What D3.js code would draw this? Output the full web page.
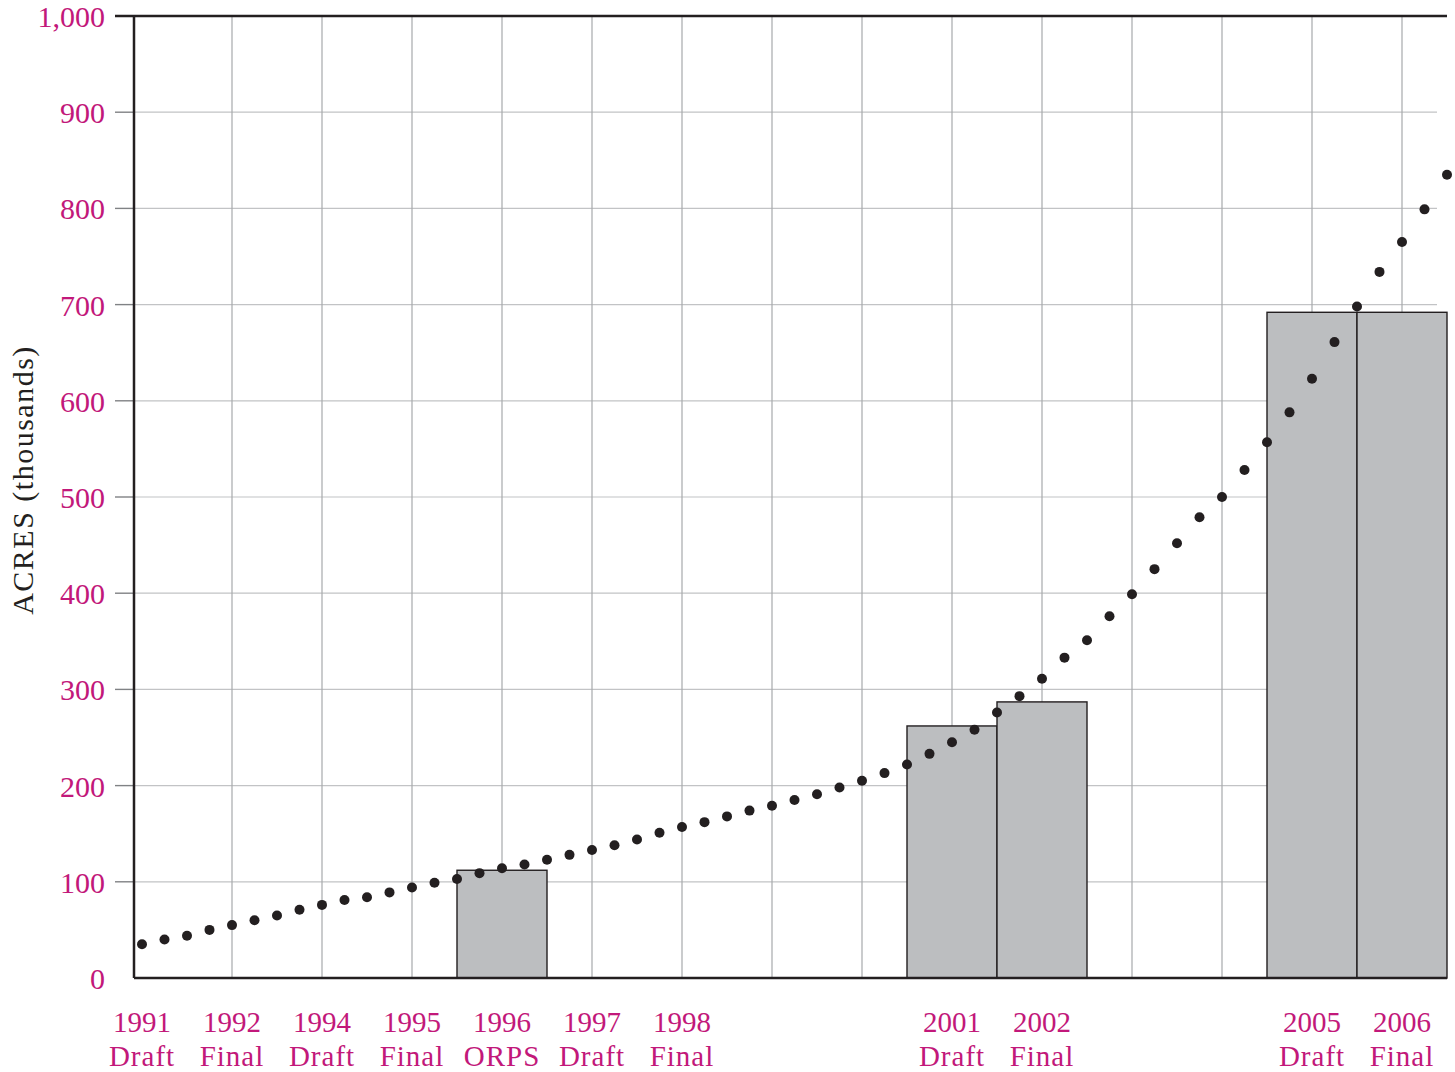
<!DOCTYPE html>
<html>
<head>
<meta charset="utf-8">
<script src="https://cdn.jsdelivr.net/npm/d3@7"></script>
<style>
  html, body { margin: 0; padding: 0; background: #fff; }
  svg { display: block; }
  text { font-family: "Liberation Serif", "Times New Roman", serif; }
</style>
</head>
<body>
<svg id="chart" width="1455" height="1072"></svg>
<script>
// ---- data ----
const categoryYears  = ["1991", "1992", "1994", "1995", "1996", "1997", "1998", "", "", "2001", "2002", "", "", "2005", "2006"];
const categoryKinds  = ["Draft", "Final", "Draft", "Final", "ORPS", "Draft", "Final", "", "", "Draft", "Final", "", "", "Draft", "Final"];
const barValues      = [null, null, null, null, 112, null, null, null, null, 262, 287, null, null, 692, 692];
// trend dots, four per category slot starting at the first category
const trendValues = [35, 40, 44, 50, 55, 60, 65, 71, 76, 81, 84, 89, 94, 99, 103, 109, 114, 118, 123, 128,
                     133, 138, 144, 151, 157, 162, 168, 174, 179, 185, 191, 198, 205, 213, 222, 233, 245, 258,
                     276, 293, 311, 333, 351, 376, 399, 425, 452, 479, 500, 528, 557, 588, 623, 661, 698, 734,
                     765, 799, 835];
const yTicks = [0, 100, 200, 300, 400, 500, 600, 700, 800, 900, 1000];
const yTitle = "ACRES (thousands)";

// ---- layout ----
const svg = d3.select("#chart");
const magenta = "#c2187a";
const ink = "#231f20";
const plotLeft = 134, plotRight = 1447, plotTop = 16, plotBottom = 978;

const x = d3.scaleLinear().domain([0, categoryYears.length - 1]).range([142, 1402]);
const bandW = x(1) - x(0);
const y = d3.scaleLinear().domain([0, 1000]).range([plotBottom, plotTop]);

// horizontal grid lines
svg.append("g").selectAll("line").data(yTicks.filter(t => t > 0 && t < 1000)).join("line")
  .attr("x1", plotLeft).attr("x2", 1437)
  .attr("y1", d => y(d)).attr("y2", d => y(d))
  .attr("stroke", "#c2c3c5").attr("stroke-width", 1.2);

// tick marks on left
svg.append("g").selectAll("line").data(yTicks.filter(t => t > 0 && t < 1000)).join("line")
  .attr("x1", 115).attr("x2", plotLeft)
  .attr("y1", d => y(d)).attr("y2", d => y(d))
  .attr("stroke", "#808285").attr("stroke-width", 1.4);

// vertical grid lines
svg.append("g").selectAll("line").data(d3.range(1, categoryYears.length)).join("line")
  .attr("x1", d => x(d)).attr("x2", d => x(d))
  .attr("y1", plotTop).attr("y2", plotBottom)
  .attr("stroke", "#a7a9ac").attr("stroke-width", 1.2);

// bars
const barData = barValues.map((v, i) => ({ i, v })).filter(d => d.v != null);
svg.append("g").selectAll("rect").data(barData).join("rect")
  .attr("x", d => x(d.i) - bandW / 2)
  .attr("width", bandW)
  .attr("y", d => y(d.v))
  .attr("height", d => y(0) - y(d.v))
  .attr("fill", "#bcbec0")
  .attr("stroke", ink).attr("stroke-width", 1.4);

// axes lines
svg.append("line").attr("x1", 115).attr("x2", plotRight).attr("y1", y(1000)).attr("y2", y(1000))
  .attr("stroke", ink).attr("stroke-width", 2.5);
svg.append("line").attr("x1", plotLeft).attr("x2", plotRight).attr("y1", y(0)).attr("y2", y(0))
  .attr("stroke", ink).attr("stroke-width", 2.5);
svg.append("line").attr("x1", plotLeft).attr("x2", plotLeft).attr("y1", y(1000)).attr("y2", y(0))
  .attr("stroke", ink).attr("stroke-width", 2.5);

// trend dots
svg.append("g").selectAll("circle").data(trendValues).join("circle")
  .attr("cx", (d, i) => x(i / 4))
  .attr("cy", d => y(d))
  .attr("r", 5)
  .attr("fill", ink);

// y tick labels
svg.append("g").selectAll("text").data(yTicks).join("text")
  .attr("x", 105)
  .attr("y", d => y(d) + 11)
  .attr("text-anchor", "end")
  .attr("font-size", 30)
  .attr("fill", magenta)
  .text(d => d3.format(",")(d));

// x labels
const xl = svg.append("g");
categoryYears.forEach((yr, i) => {
  if (!yr) return;
  xl.append("text").attr("x", x(i)).attr("y", 1032).attr("text-anchor", "middle")
    .attr("font-size", 29).attr("fill", magenta).text(yr);
  xl.append("text").attr("x", x(i)).attr("y", 1066).attr("text-anchor", "middle")
    .attr("font-size", 29).attr("letter-spacing", 1).attr("fill", magenta).text(categoryKinds[i]);
});

// y axis title
svg.append("text")
  .attr("transform", "translate(33,480) rotate(-90)")
  .attr("text-anchor", "middle")
  .attr("font-size", 30)
  .attr("letter-spacing", 1.5)
  .attr("fill", ink)
  .text(yTitle);
</script>
</body>
</html>
